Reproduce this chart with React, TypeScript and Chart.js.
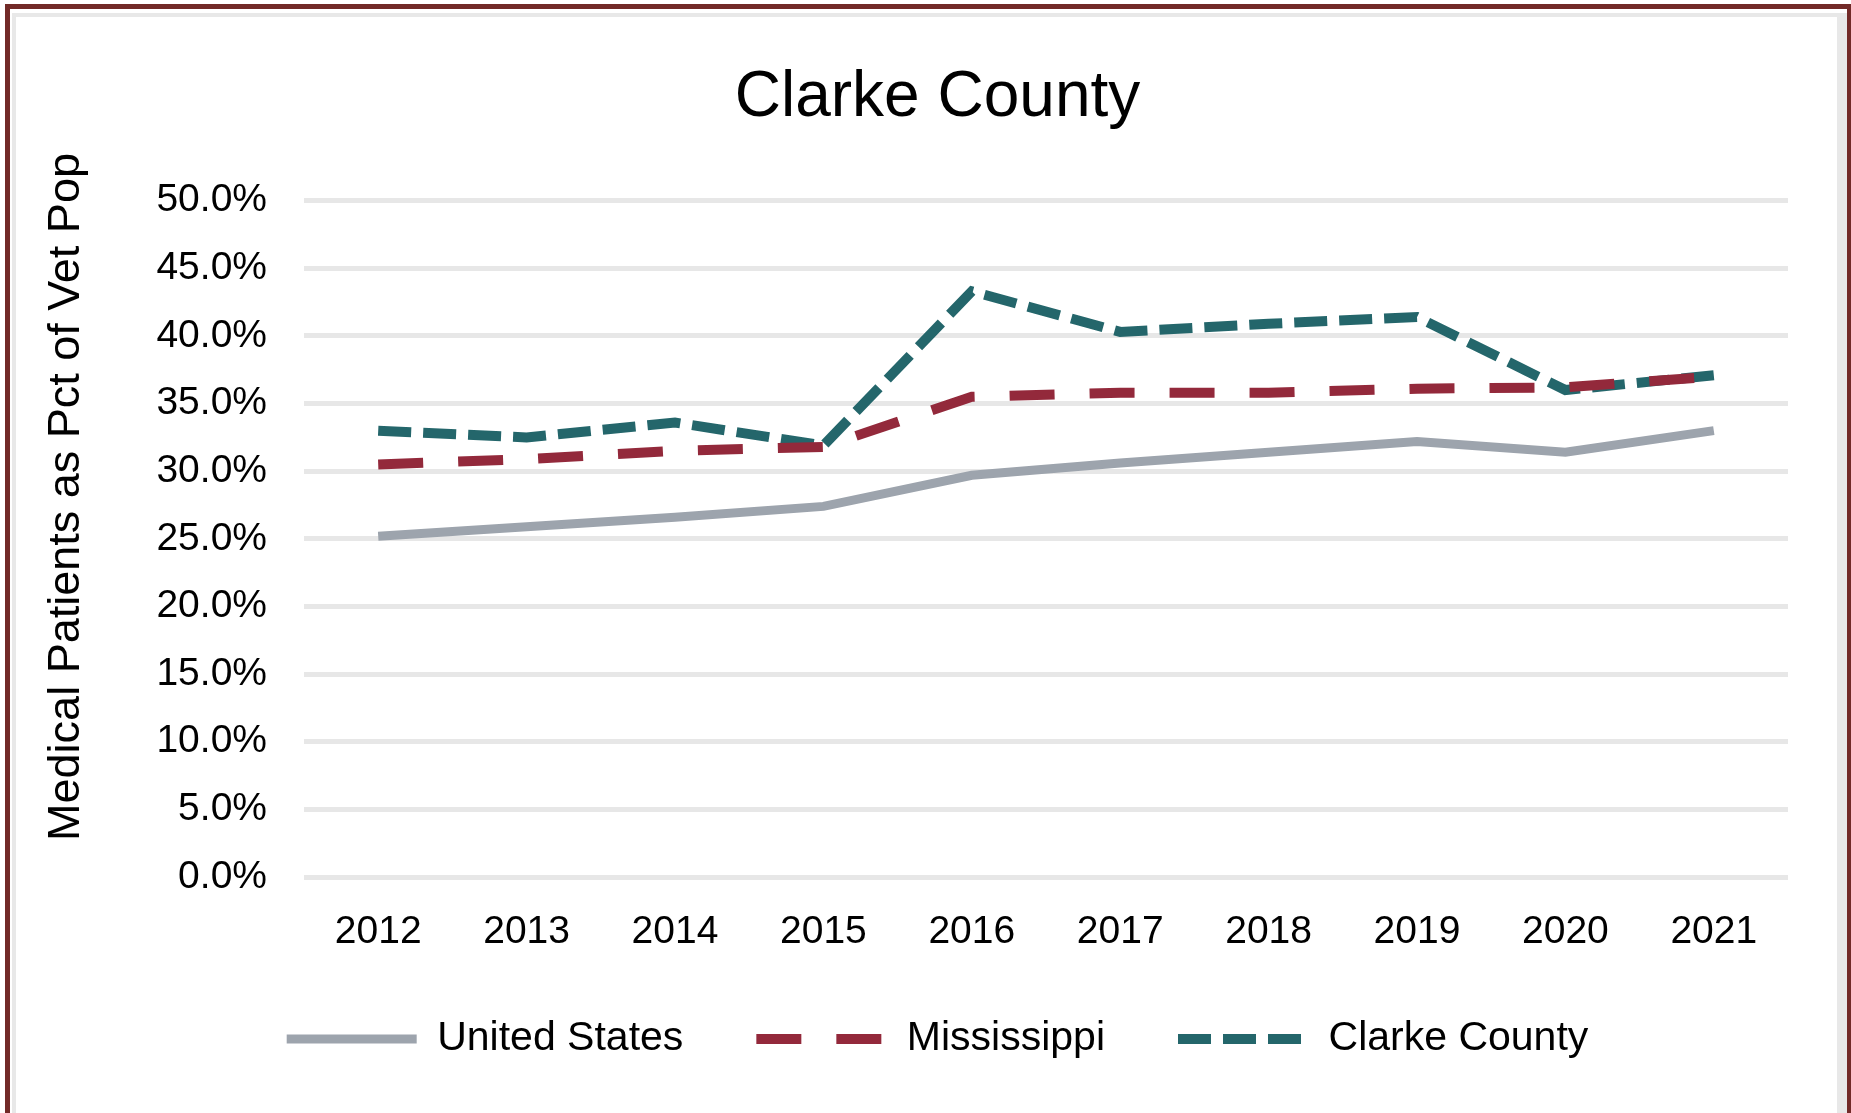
import React, { useEffect, useRef } from 'react';
import { Chart, registerables } from 'chart.js';

Chart.register(...registerables);

const TITLE = 'Clarke County';
const Y_TITLE = 'Medical Patients as Pct of Vet Pop';
const YEARS = ['2012', '2013', '2014', '2015', '2016', '2017', '2018', '2019', '2020', '2021'];
const SERIES_NAMES = ['United States', 'Mississippi', 'Clarke County'];
const US_VALUES = [25.2, 25.9, 26.6, 27.4, 29.7, 30.6, 31.4, 32.2, 31.4, 33.0];
const MS_VALUES = [30.5, 30.9, 31.5, 31.8, 35.5, 35.8, 35.8, 36.1, 36.2, 37.0];
const CLARKE_VALUES = [33.0, 32.5, 33.6, 31.9, 43.3, 40.3, 40.9, 41.4, 36.0, 37.1];
const Y_MIN = 0;
const Y_MAX = 50;
const Y_STEP = 5;

const FONT = '"Liberation Sans", Arial, sans-serif';

const yTitlePlugin = {
  id: 'yTitleCustom',
  afterDraw(chart: any) {
    const ctx = chart.ctx;
    ctx.save();
    ctx.translate(67, 497);
    ctx.rotate(-Math.PI / 2);
    ctx.font = `45px ${FONT}`;
    ctx.fillStyle = '#000';
    ctx.textAlign = 'center';
    ctx.textBaseline = 'middle';
    ctx.fillText(Y_TITLE, 0, 0);
    ctx.restore();
  },
};

export default function App() {
  const ref = useRef<HTMLCanvasElement | null>(null);

  useEffect(() => {
    if (!ref.current) return;
    const chart = new Chart(ref.current, {
      type: 'line',
      data: {
        labels: YEARS,
        datasets: [
          {
            label: SERIES_NAMES[0],
            data: US_VALUES,
            borderColor: '#9DA4AD',
            backgroundColor: '#9DA4AD',
            borderWidth: 9,
            borderCapStyle: 'butt',
            pointRadius: 0,
            tension: 0,
          },
          {
            label: SERIES_NAMES[1],
            data: MS_VALUES,
            borderColor: '#93293B',
            backgroundColor: '#93293B',
            borderWidth: 10,
            borderDash: [45, 35],
            borderCapStyle: 'butt',
            pointRadius: 0,
            tension: 0,
          },
          {
            label: SERIES_NAMES[2],
            data: CLARKE_VALUES,
            borderColor: '#24666B',
            backgroundColor: '#24666B',
            borderWidth: 10,
            borderDash: [33, 12],
            borderCapStyle: 'butt',
            pointRadius: 0,
            tension: 0,
          },
        ],
      },
      options: {
        animation: false,
        responsive: false,
        devicePixelRatio: 1,
        layout: { padding: { top: 20, left: 87, right: 63, bottom: 43.5 } },
        plugins: {
          title: {
            display: true,
            text: TITLE,
            color: '#000',
            font: { family: FONT, size: 64, weight: 'normal' },
            padding: { top: 39.6, bottom: 64.3 },
          },
          legend: {
            display: true,
            position: 'bottom',
            labels: {
              usePointStyle: true,
              pointStyle: 'line',
              pointStyleWidth: 130,
              color: '#000',
              padding: 73,
              font: { family: FONT, size: 41 },
              generateLabels: (c: any) =>
                c.data.datasets.map((ds: any, i: number) => ({
                  text: ds.label,
                  datasetIndex: i,
                  fillStyle: ds.borderColor,
                  strokeStyle: ds.borderColor,
                  fontColor: '#000',
                  lineWidth: ds.borderWidth,
                  lineDash: ds.borderDash || [],
                  lineCap: 'butt',
                  pointStyle: 'line',
                  hidden: false,
                })),
            },
          },
          tooltip: { enabled: false },
        },
        scales: {
          x: {
            offset: true,
            grid: { display: false, drawTicks: false, offset: true },
            border: { display: false },
            ticks: { color: '#000', padding: 32, font: { family: FONT, size: 39 } },
            afterFit: (scale: any) => {
              scale.height = 68.5;
            },
          },
          y: {
            min: Y_MIN,
            max: Y_MAX,
            grid: { color: '#e7e7e7', lineWidth: 5, drawTicks: false },
            border: { display: false },
            ticks: {
              stepSize: Y_STEP,
              color: '#000',
              padding: 37,
              font: { family: FONT, size: 39 },
              callback: (v: any) => Number(v).toFixed(1) + '%',
            },
            afterFit: (scale: any) => {
              scale.width = 217;
            },
          },
        },
      },
      plugins: [yTitlePlugin],
    } as any);
    return () => chart.destroy();
  }, []);

  return (
    <div style={{ position: 'absolute', left: 0, top: 0, width: 1851, height: 1113, overflow: 'hidden', background: '#fff' }}>
      <div style={{ position: 'absolute', left: 5, top: 4, width: 1847, height: 1200, boxSizing: 'border-box', border: '5px solid #722A28' }} />
      <div style={{ position: 'absolute', left: 12, top: 13, width: 1835, height: 1200, boxSizing: 'border-box', borderStyle: 'solid', borderColor: '#e8e8e8', borderWidth: '4px 10px 7px 4px' }} />
      <canvas ref={ref} width={1851} height={1113} style={{ position: 'absolute', left: 0, top: 0, width: 1851, height: 1113 }} />
    </div>
  );
}
